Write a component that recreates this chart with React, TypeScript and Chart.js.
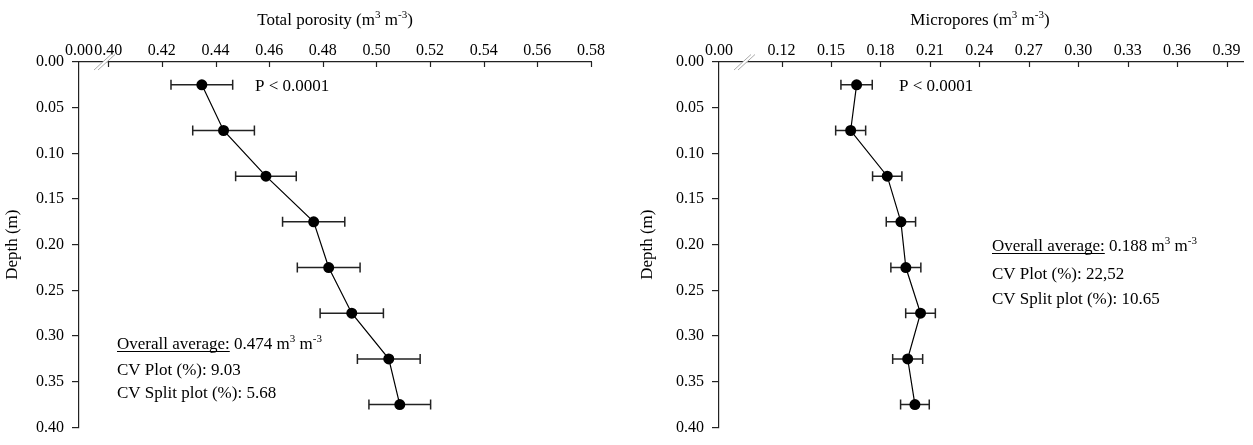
import { useEffect, useRef } from 'react';
import { Chart, registerables } from 'chart.js';
Chart.register(...registerables);

// ---- data ----
const depths = [0.025, 0.075, 0.125, 0.175, 0.225, 0.275, 0.325, 0.375];
const totalPorosity = [0.4349, 0.443, 0.4588, 0.4766, 0.4822, 0.4908, 0.5046, 0.5087];
const totalPorosityErr = [0.0115, 0.0115, 0.0113, 0.0116, 0.0117, 0.0118, 0.0117, 0.0115];
const micropores = [0.1655, 0.1619, 0.1841, 0.1924, 0.1954, 0.2043, 0.1965, 0.2009];
const microporesErr = [0.0095, 0.0091, 0.0089, 0.0089, 0.0091, 0.009, 0.0091, 0.0087];
const depthTicks = [0, 0.05, 0.1, 0.15, 0.2, 0.25, 0.3, 0.35, 0.4];
const totalTicks = [0.4, 0.42, 0.44, 0.46, 0.48, 0.5, 0.52, 0.54, 0.56, 0.58];
const microTicks = [0.12, 0.15, 0.18, 0.21, 0.24, 0.27, 0.3, 0.33, 0.36, 0.39];
// broken axis: the "0.00" label sits at the start of the axis
const totalAxisStart = 0.3891;
const totalAxisEnd = 0.58;
const microAxisStart = 0.082;
const microAxisEnd = 0.4;

const FONT = '"Liberation Serif", "Times New Roman", serif';
const INK = '#000';
const AXIS = '#222';
const TEXT_SIZE = 17;

type Seg = { t: string; sup?: boolean; u?: boolean };

function drawRich(ctx: CanvasRenderingContext2D, segs: Seg[], x: number, y: number, size: number, align: 'left' | 'center' = 'left') {
  const base = `${size}px ${FONT}`;
  const sup = `${Math.round(size * 0.62)}px ${FONT}`;
  ctx.save();
  ctx.textBaseline = 'alphabetic';
  ctx.textAlign = 'left';
  const widths = segs.map((s) => {
    ctx.font = s.sup ? sup : base;
    return ctx.measureText(s.t).width;
  });
  const total = widths.reduce((a, b) => a + b, 0);
  let cx = align === 'center' ? x - total / 2 : x;
  segs.forEach((s, i) => {
    ctx.font = s.sup ? sup : base;
    ctx.fillStyle = INK;
    const yy = s.sup ? y - size * 0.4 : y;
    ctx.fillText(s.t, cx, yy);
    if (s.u) {
      ctx.strokeStyle = INK;
      ctx.lineWidth = 1;
      ctx.beginPath();
      ctx.moveTo(cx, y + 2.5);
      ctx.lineTo(cx + widths[i], y + 2.5);
      ctx.stroke();
    }
    cx += widths[i];
  });
  ctx.restore();
}

type PanelCfg = {
  values: number[];
  errors: number[];
  axisStart: number;
  axisEnd: number;
  ticks: number[];
  title: Seg[];
  titleX: number;
  yLabelX: number;
  pText: { x: number; y: number };
  notes: { segs: Seg[]; y: number }[];
  notesX: number;
  width: number;
  padRight: number;
};

function Panel({ cfg, left }: { cfg: PanelCfg; left: number }) {
  const ref = useRef<HTMLCanvasElement>(null);
  useEffect(() => {
    const canvas = ref.current!;
    const points = depths.map((d, i) => ({ x: cfg.values[i], y: d }));
    const plugin = {
      id: 'decor',
      beforeDatasetsDraw(chart: any) {
        const ctx = chart.ctx as CanvasRenderingContext2D;
        const xs = chart.scales.x;
        const ys = chart.scales.y;
        ctx.save();
        ctx.strokeStyle = '#222';
        ctx.lineWidth = 1.5;
        depths.forEach((d, i) => {
          const py = ys.getPixelForValue(d);
          const x1 = xs.getPixelForValue(cfg.values[i] - cfg.errors[i]);
          const x2 = xs.getPixelForValue(cfg.values[i] + cfg.errors[i]);
          ctx.beginPath();
          ctx.moveTo(x1, py);
          ctx.lineTo(x2, py);
          ctx.moveTo(x1, py - 5);
          ctx.lineTo(x1, py + 5);
          ctx.moveTo(x2, py - 5);
          ctx.lineTo(x2, py + 5);
          ctx.stroke();
        });
        ctx.restore();
      },
      afterDraw(chart: any) {
        const ctx = chart.ctx as CanvasRenderingContext2D;
        const xs = chart.scales.x;
        const area = chart.chartArea;
        ctx.save();
        // inward tick marks on top axis
        ctx.strokeStyle = AXIS;
        ctx.lineWidth = 1.2;
        cfg.ticks.forEach((v) => {
          const px = Math.round(xs.getPixelForValue(v)) + 0.5;
          ctx.beginPath();
          ctx.moveTo(px, area.top);
          ctx.lineTo(px, area.top + 5);
          ctx.stroke();
        });
        // axis break marks
        const bx = area.left + 15;
        const by = area.top;
        ctx.fillStyle = '#fff';
        ctx.beginPath();
        ctx.moveTo(bx, by + 8);
        ctx.lineTo(bx + 17, by - 7.5);
        ctx.lineTo(bx + 21, by - 7.5);
        ctx.lineTo(bx + 4, by + 8);
        ctx.closePath();
        ctx.fill();
        ctx.strokeStyle = '#aaa';
        ctx.lineWidth = 1;
        [0, 4].forEach((o) => {
          ctx.beginPath();
          ctx.moveTo(bx + o, by + 8);
          ctx.lineTo(bx + o + 17, by - 7.5);
          ctx.stroke();
        });
        ctx.restore();
        // title
        drawRich(ctx, cfg.title, cfg.titleX, 25, TEXT_SIZE, 'center');
        // y label
        ctx.save();
        ctx.translate(cfg.yLabelX, (area.top + area.bottom) / 2);
        ctx.rotate(-Math.PI / 2);
        ctx.font = `${TEXT_SIZE}px ${FONT}`;
        ctx.fillStyle = INK;
        ctx.textAlign = 'center';
        ctx.textBaseline = 'middle';
        ctx.fillText('Depth (m)', 0, 0);
        ctx.restore();
        // annotations
        drawRich(ctx, [{ t: 'P < 0.0001' }], cfg.pText.x, cfg.pText.y, TEXT_SIZE);
        cfg.notes.forEach((n) => drawRich(ctx, n.segs, cfg.notesX, n.y, TEXT_SIZE));
      },
    };
    const chart = new Chart(canvas, {
      type: 'scatter',
      data: {
        datasets: [
          {
            data: points,
            showLine: true,
            borderColor: '#000',
            borderWidth: 1.2,
            pointRadius: 5.5,
            pointBackgroundColor: '#000',
            pointBorderWidth: 0,
          },
        ],
      },
      options: {
        responsive: false,
        animation: false,
        events: [],
        layout: { padding: { left: 0, top: 0, right: cfg.padRight, bottom: 13 } },
        plugins: { legend: { display: false }, tooltip: { enabled: false } },
        scales: {
          x: {
            type: 'linear',
            position: 'top',
            min: cfg.axisStart,
            max: cfg.axisEnd,
            afterBuildTicks: (s: any) => {
              s.ticks = [cfg.axisStart, ...cfg.ticks].map((v) => ({ value: v }));
            },
            afterFit: (s: any) => {
              s.height = 62;
            },
            ticks: {
              autoSkip: false,
              maxRotation: 0,
              padding: 2,
              color: INK,
              font: { family: FONT, size: 16 },
              callback: (v: any) => (v === cfg.axisStart ? '0.00' : Number(v).toFixed(2)),
            },
            grid: { drawOnChartArea: false, drawTicks: false },
            border: { color: AXIS, width: 1.2 },
          },
          y: {
            type: 'linear',
            reverse: true,
            min: 0,
            max: 0.4,
            afterBuildTicks: (s: any) => {
              s.ticks = depthTicks.map((v) => ({ value: v }));
            },
            afterFit: (s: any) => {
              s.width = 79;
            },
            ticks: {
              padding: 8,
              color: INK,
              font: { family: FONT, size: 16 },
              callback: (v: any) => Number(v).toFixed(2),
            },
            grid: { drawOnChartArea: false, tickLength: 7, color: AXIS, lineWidth: 1.2 },
            border: { color: AXIS, width: 1.2 },
          },
        },
      },
      plugins: [plugin],
    });
    return () => chart.destroy();
  }, [cfg]);
  return (
    <canvas
      ref={ref}
      width={cfg.width}
      height={445}
      style={{ position: 'absolute', left, top: 0, width: cfg.width, height: 445 }}
    />
  );
}

const leftCfg: PanelCfg = {
  values: totalPorosity,
  errors: totalPorosityErr,
  axisStart: totalAxisStart,
  axisEnd: totalAxisEnd,
  ticks: totalTicks,
  title: [{ t: 'Total porosity (m' }, { t: '3', sup: true }, { t: ' m' }, { t: '-3', sup: true }, { t: ')' }],
  titleX: 335,
  yLabelX: 13,
  pText: { x: 255, y: 91 },
  notesX: 117,
  notes: [
    { segs: [{ t: 'Overall average:', u: true }, { t: ' 0.474 m' }, { t: '3', sup: true }, { t: ' m' }, { t: '-3', sup: true }], y: 349 },
    { segs: [{ t: 'CV Plot (%): 9.03' }], y: 375 },
    { segs: [{ t: 'CV Split plot (%): 5.68' }], y: 398 },
  ],
  width: 640,
  padRight: 49,
};

const rightCfg: PanelCfg = {
  values: micropores,
  errors: microporesErr,
  axisStart: microAxisStart,
  axisEnd: microAxisEnd,
  ticks: microTicks,
  title: [{ t: 'Micropores (m' }, { t: '3', sup: true }, { t: ' m' }, { t: '-3', sup: true }, { t: ')' }],
  titleX: 340,
  yLabelX: 8,
  pText: { x: 259, y: 91 },
  notesX: 352,
  notes: [
    { segs: [{ t: 'Overall average:', u: true }, { t: ' 0.188 m' }, { t: '3', sup: true }, { t: ' m' }, { t: '-3', sup: true }], y: 251 },
    { segs: [{ t: 'CV Plot (%): 22,52' }], y: 279 },
    { segs: [{ t: 'CV Split plot (%): 10.65' }], y: 304 },
  ],
  width: 613,
  padRight: 10,
};

export default function App() {
  return (
    <div style={{ position: 'absolute', left: 0, top: 0, width: 1253, height: 445, background: '#fff' }}>
      <Panel cfg={leftCfg} left={0} />
      <Panel cfg={rightCfg} left={640} />
    </div>
  );
}
